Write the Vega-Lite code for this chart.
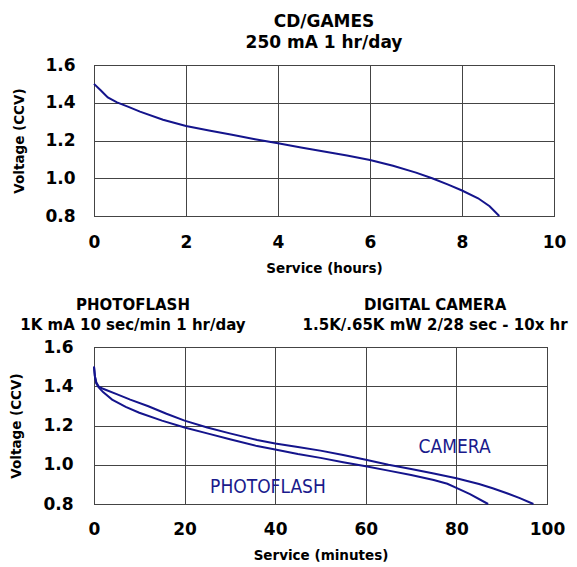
{
  "$schema": "https://vega.github.io/schema/vega-lite/v6.json",
  "background": "white",
  "padding": {"left": 9, "top": 12, "right": 0, "bottom": 5},
  "spacing": 22,
  "align": "none",
  "config": {
    "font": "DejaVu Sans",
    "view": {"stroke": "black", "strokeWidth": 1},
    "axis": {
      "grid": true,
      "gridColor": "#444",
      "gridWidth": 1,
      "gridOpacity": 1,
      "domain": false,
      "ticks": false,
      "labelOverlap": false,
      "labelFont": "DejaVu Sans",
      "labelFontSize": 17,
      "labelFontWeight": "bold",
      "labelColor": "black",
      "titleFont": "DejaVu Sans",
      "titleFontSize": 13.5,
      "titleFontWeight": "bold",
      "titleColor": "black"
    },
    "title": {"font": "DejaVu Sans", "fontWeight": "bold", "color": "black"}
  },
  "datasets": {
    "cd": [
      {"hours": 0, "v": 1.5},
      {"hours": 0.15, "v": 1.465},
      {"hours": 0.3, "v": 1.428},
      {"hours": 0.5, "v": 1.402},
      {"hours": 0.75, "v": 1.378},
      {"hours": 1, "v": 1.353},
      {"hours": 1.5, "v": 1.31},
      {"hours": 2, "v": 1.277},
      {"hours": 2.5, "v": 1.253},
      {"hours": 3, "v": 1.23},
      {"hours": 3.5, "v": 1.207},
      {"hours": 4, "v": 1.185},
      {"hours": 4.5, "v": 1.163},
      {"hours": 5, "v": 1.142},
      {"hours": 5.5, "v": 1.12},
      {"hours": 6, "v": 1.097},
      {"hours": 6.5, "v": 1.066},
      {"hours": 7, "v": 1.03},
      {"hours": 7.35, "v": 1.0},
      {"hours": 7.7, "v": 0.966},
      {"hours": 8, "v": 0.935},
      {"hours": 8.35, "v": 0.894},
      {"hours": 8.6, "v": 0.852},
      {"hours": 8.81, "v": 0.8}
    ],
    "flash": [
      {"series": "CAMERA", "minutes": 0, "v": 1.5},
      {"series": "CAMERA", "minutes": 0.2, "v": 1.45},
      {"series": "CAMERA", "minutes": 0.5, "v": 1.42},
      {"series": "CAMERA", "minutes": 1, "v": 1.4},
      {"series": "CAMERA", "minutes": 2, "v": 1.387},
      {"series": "CAMERA", "minutes": 5, "v": 1.36},
      {"series": "CAMERA", "minutes": 8, "v": 1.332},
      {"series": "CAMERA", "minutes": 12, "v": 1.298},
      {"series": "CAMERA", "minutes": 16, "v": 1.26},
      {"series": "CAMERA", "minutes": 20, "v": 1.225},
      {"series": "CAMERA", "minutes": 25, "v": 1.19},
      {"series": "CAMERA", "minutes": 30, "v": 1.16},
      {"series": "CAMERA", "minutes": 36, "v": 1.126},
      {"series": "CAMERA", "minutes": 40, "v": 1.108},
      {"series": "CAMERA", "minutes": 45, "v": 1.09},
      {"series": "CAMERA", "minutes": 50, "v": 1.072},
      {"series": "CAMERA", "minutes": 55, "v": 1.05},
      {"series": "CAMERA", "minutes": 60, "v": 1.025},
      {"series": "CAMERA", "minutes": 65, "v": 1.0},
      {"series": "CAMERA", "minutes": 70, "v": 0.978},
      {"series": "CAMERA", "minutes": 75, "v": 0.955},
      {"series": "CAMERA", "minutes": 80, "v": 0.931},
      {"series": "CAMERA", "minutes": 85, "v": 0.902},
      {"series": "CAMERA", "minutes": 88, "v": 0.88},
      {"series": "CAMERA", "minutes": 91, "v": 0.856},
      {"series": "CAMERA", "minutes": 94, "v": 0.83},
      {"series": "CAMERA", "minutes": 97, "v": 0.8},
      {"series": "PHOTOFLASH", "minutes": 0, "v": 1.5},
      {"series": "PHOTOFLASH", "minutes": 0.2, "v": 1.45},
      {"series": "PHOTOFLASH", "minutes": 0.5, "v": 1.415},
      {"series": "PHOTOFLASH", "minutes": 1, "v": 1.395},
      {"series": "PHOTOFLASH", "minutes": 2, "v": 1.37},
      {"series": "PHOTOFLASH", "minutes": 4, "v": 1.332},
      {"series": "PHOTOFLASH", "minutes": 7, "v": 1.295},
      {"series": "PHOTOFLASH", "minutes": 10, "v": 1.265},
      {"series": "PHOTOFLASH", "minutes": 15, "v": 1.225},
      {"series": "PHOTOFLASH", "minutes": 20, "v": 1.19},
      {"series": "PHOTOFLASH", "minutes": 25, "v": 1.16},
      {"series": "PHOTOFLASH", "minutes": 30, "v": 1.13},
      {"series": "PHOTOFLASH", "minutes": 36, "v": 1.095},
      {"series": "PHOTOFLASH", "minutes": 40, "v": 1.078},
      {"series": "PHOTOFLASH", "minutes": 45, "v": 1.055},
      {"series": "PHOTOFLASH", "minutes": 50, "v": 1.035},
      {"series": "PHOTOFLASH", "minutes": 55, "v": 1.013},
      {"series": "PHOTOFLASH", "minutes": 60, "v": 0.992},
      {"series": "PHOTOFLASH", "minutes": 65, "v": 0.97},
      {"series": "PHOTOFLASH", "minutes": 70, "v": 0.948},
      {"series": "PHOTOFLASH", "minutes": 75, "v": 0.922},
      {"series": "PHOTOFLASH", "minutes": 78, "v": 0.903},
      {"series": "PHOTOFLASH", "minutes": 80, "v": 0.882},
      {"series": "PHOTOFLASH", "minutes": 83, "v": 0.85},
      {"series": "PHOTOFLASH", "minutes": 87, "v": 0.8}
    ],
    "curveLabels": [
      {"label": "CAMERA", "minutes": 79.6, "v": 1.092},
      {"label": "PHOTOFLASH", "minutes": 38.4, "v": 0.887}
    ],
    "headings": [
      {"line1": "PHOTOFLASH", "line2": "1K mA 10 sec/min 1 hr/day", "minutes": 8.6, "v": 1.815},
      {"line1": "DIGITAL CAMERA", "line2": "1.5K/.65K mW 2/28 sec - 10x hr", "minutes": 75.3, "v": 1.815}
    ]
  },
  "vconcat": [
    {
      "width": 460,
      "height": 151,
      "title": {
        "text": ["CD/GAMES", "250 mA 1 hr/day"],
        "fontSize": 17,
        "lineHeight": 21,
        "anchor": "middle",
        "offset": 4
      },
      "data": {"name": "cd"},
      "mark": {"type": "line", "color": "#14148c", "strokeWidth": 2},
      "encoding": {
        "x": {
          "field": "hours", "type": "quantitative",
          "scale": {"domain": [0, 10], "nice": false},
          "axis": {"title": "Service (hours)", "values": [0, 2, 4, 6, 8, 10], "labelPadding": 18, "titlePadding": 11, "labelFlush": false}
        },
        "y": {
          "field": "v", "type": "quantitative",
          "scale": {"domain": [0.8, 1.6], "nice": false, "zero": false},
          "axis": {"title": "Voltage (CCV)", "values": [0.8, 1.0, 1.2, 1.4, 1.6], "format": ".1f", "labelPadding": 19, "titlePadding": 18, "labelFlush": false}
        }
      }
    },
    {
      "width": 453,
      "height": 157,
      "encoding": {
        "y": {
          "field": "v", "type": "quantitative",
          "scale": {"domain": [0.8, 1.6], "nice": false, "zero": false},
          "axis": {"title": "Voltage (CCV)", "values": [0.8, 1.0, 1.2, 1.4, 1.6], "format": ".1f", "labelPadding": 21, "titlePadding": 19, "labelFlush": false}
        },
        "x": {
          "field": "minutes", "type": "quantitative",
          "scale": {"domain": [0, 100], "nice": false},
          "axis": {"title": "Service (minutes)", "values": [0, 20, 40, 60, 80, 100], "labelPadding": 17, "titlePadding": 11, "labelFlush": false}
        }
      },
      "layer": [
        {
          "data": {"name": "flash"},
          "mark": {"type": "line", "color": "#14148c", "strokeWidth": 2},
          "encoding": {
            "detail": {"field": "series"}
          }
        },
        {
          "data": {"name": "curveLabels"},
          "mark": {"type": "text", "font": "DejaVu Sans Condensed", "fontSize": 19, "color": "#1a1a8c", "align": "center", "baseline": "middle"},
          "encoding": {
            "text": {"field": "label"}
          }
        },
        {
          "data": {"name": "headings"},
          "transform": [{"calculate": "[datum.line1, datum.line2]", "as": "lines"}],
          "mark": {"type": "text", "font": "DejaVu Sans", "fontWeight": "bold", "fontSize": 15, "lineHeight": 20, "color": "black", "align": "center", "baseline": "middle", "clip": false},
          "encoding": {
            "text": {"field": "lines"}
          }
        }
      ]
    }
  ]
}
